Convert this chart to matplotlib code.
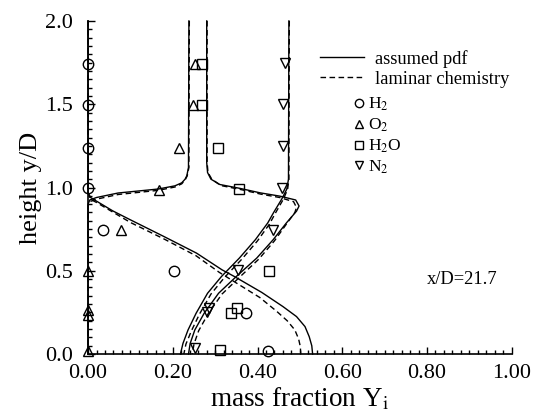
import matplotlib
matplotlib.use("Agg")
import matplotlib.pyplot as plt
from matplotlib.lines import Line2D
from matplotlib.ticker import MultipleLocator, FormatStrFormatter

plt.rcParams["font.family"] = ["Liberation Serif", "DejaVu Serif"]
plt.rcParams["mathtext.fontset"] = "stix"

# ---- model profiles: mass fraction (x) vs height y/D ----
# assumed pdf (solid)
h2_pdf_y = [2.0, 0.97, 0.94, 0.918, 0.86, 0.807, 0.707, 0.606, 0.506, 0.466, 0.37, 0.285, 0.225, 0.165, 0.104, 0.05, 0.0]
h2_pdf_x = [0.0, 0.0, 0.006, 0.02, 0.058, 0.099, 0.178, 0.256, 0.316, 0.345, 0.41, 0.46, 0.492, 0.512, 0.522, 0.528, 0.53]
o2_pdf_y = [0.0, 0.90, 0.925, 0.94, 0.967, 0.991, 1.01, 1.028, 1.05, 1.07, 1.12, 2.0]
o2_pdf_x = [0.0, 0.0, 0.004, 0.02, 0.071, 0.166, 0.205, 0.221, 0.229, 0.233, 0.237, 0.238]
h2o_pdf_y = [2.0, 1.15, 1.09, 1.05, 1.018, 0.995, 0.968, 0.948, 0.925, 0.889, 0.858, 0.787, 0.687, 0.576, 0.466, 0.365, 0.245, 0.145, 0.064, 0.0]
h2o_pdf_x = [0.280, 0.280, 0.282, 0.29, 0.311, 0.358, 0.406, 0.453, 0.49, 0.498, 0.492, 0.468, 0.437, 0.398, 0.350, 0.308, 0.274, 0.252, 0.241, 0.237]
n2_pdf_y = [2.0, 1.05, 0.99, 0.93, 0.85, 0.787, 0.687, 0.576, 0.466, 0.365, 0.245, 0.145, 0.064, 0.0]
n2_pdf_x = [0.474, 0.473, 0.469, 0.457, 0.438, 0.424, 0.395, 0.357, 0.315, 0.282, 0.255, 0.236, 0.224, 0.218]

# laminar chemistry (dashed)
h2_lam_y = [2.0, 0.97, 0.93, 0.91, 0.85, 0.79, 0.69, 0.59, 0.49, 0.425, 0.34, 0.257, 0.2, 0.145, 0.09, 0.044, 0.0]
h2_lam_x = [0.0, 0.0, 0.005, 0.02, 0.06, 0.10, 0.18, 0.255, 0.31, 0.351, 0.405, 0.445, 0.47, 0.488, 0.497, 0.501, 0.502]
o2_lam_y = [0.0, 0.89, 0.915, 0.93, 0.958, 0.983, 1.003, 1.022, 1.045, 1.07, 1.12, 2.0]
o2_lam_x = [0.0, 0.0, 0.004, 0.02, 0.071, 0.166, 0.205, 0.221, 0.229, 0.234, 0.238, 0.239]
h2o_lam_y = [2.0, 1.15, 1.09, 1.05, 1.012, 0.988, 0.96, 0.94, 0.915, 0.88, 0.85, 0.78, 0.68, 0.57, 0.46, 0.36, 0.24, 0.14, 0.06, 0.0]
h2o_lam_x = [0.281, 0.281, 0.283, 0.292, 0.313, 0.36, 0.408, 0.452, 0.485, 0.492, 0.488, 0.468, 0.44, 0.403, 0.357, 0.316, 0.283, 0.261, 0.25, 0.246]
n2_lam_y = [2.0, 1.05, 0.99, 0.93, 0.85, 0.78, 0.68, 0.57, 0.46, 0.36, 0.24, 0.14, 0.06, 0.0]
n2_lam_x = [0.475, 0.474, 0.471, 0.461, 0.443, 0.428, 0.400, 0.363, 0.322, 0.29, 0.263, 0.244, 0.231, 0.226]

# ---- measurements ----
h2_y = [1.74, 1.494, 1.239, 0.998, 0.747, 0.496, 0.245, 0.02]
h2_x = [0.0, 0.0, 0.0, 0.0, 0.035, 0.203, 0.373, 0.425]
o2_y = [1.74, 1.494, 1.235, 0.988, 0.747, 0.496, 0.265, 0.235, 0.02]
o2_x = [0.252, 0.247, 0.215, 0.168, 0.077, 0.0, 0.0, 0.0, 0.0]
h2o_y = [1.74, 1.494, 1.235, 0.994, 0.50, 0.275, 0.245, 0.024]
h2o_x = [0.268, 0.268, 0.307, 0.357, 0.428, 0.351, 0.337, 0.311]
n2_y = [1.75, 1.50, 1.249, 0.998, 0.747, 0.506, 0.275, 0.255, 0.034]
n2_x = [0.465, 0.461, 0.461, 0.457, 0.437, 0.355, 0.286, 0.280, 0.252]

fig = plt.figure(figsize=(5.37, 4.19), dpi=100)
ax = fig.add_axes([0.164, 0.155, 0.789, 0.795])

pdf_curves = [(h2_pdf_x, h2_pdf_y), (o2_pdf_x, o2_pdf_y), (h2o_pdf_x, h2o_pdf_y), (n2_pdf_x, n2_pdf_y)]
lam_curves = [(h2_lam_x, h2_lam_y), (o2_lam_x, o2_lam_y), (h2o_lam_x, h2o_lam_y), (n2_lam_x, n2_lam_y)]
for xs, ys in pdf_curves:
    ax.plot(xs, ys, color="black", lw=1.0, clip_on=False)
for xs, ys in lam_curves:
    ax.plot(xs, ys, color="black", lw=1.0, ls=(0, (4, 2.5)), clip_on=False)

mk = dict(ls="none", color="black", mfc="none", mew=1.0, clip_on=False)
ax.plot(h2_x, h2_y, marker="o", ms=7.5, **mk)
ax.plot(o2_x, o2_y, marker="^", ms=7.5, **mk)
ax.plot(h2o_x, h2o_y, marker="s", ms=6.5, **mk)
ax.plot(n2_x, n2_y, marker="v", ms=7.5, **mk)

ax.set_xlim(0, 1.0)
ax.set_ylim(0, 2.0)
ax.spines["top"].set_visible(False)
ax.spines["right"].set_visible(False)
for s in ["left", "bottom"]:
    ax.spines[s].set_linewidth(1.2)
ax.xaxis.set_major_locator(MultipleLocator(0.2))
ax.xaxis.set_minor_locator(MultipleLocator(0.02))
ax.yaxis.set_major_locator(MultipleLocator(0.5))
ax.yaxis.set_minor_locator(MultipleLocator(0.05))
ax.xaxis.set_major_formatter(FormatStrFormatter("%.2f"))
ax.yaxis.set_major_formatter(FormatStrFormatter("%.1f"))
ax.tick_params(which="both", direction="in", top=False, right=False, width=1.0)
ax.tick_params(which="major", length=5, labelsize=16)
ax.tick_params(which="minor", length=3)
ax.tick_params(axis="x", which="major", pad=7)
ax.tick_params(axis="y", which="major", pad=11)

ax.set_xlabel("mass fraction Y$_\\mathrm{i}$", fontsize=19.5, labelpad=2)
ax.set_ylabel("height y/D", fontsize=19, labelpad=2)

ax.text(0.80, 0.446, "x/D=21.7", fontsize=13.3, va="center")

line_handles = [Line2D([], [], color="black", lw=1.0),
                Line2D([], [], color="black", lw=1.0, ls=(0, (4, 2.5)))]
leg1 = ax.legend(line_handles, ["assumed pdf", "laminar chemistry"], loc="upper left",
                 bbox_to_anchor=(0.547, 0.913), frameon=False, fontsize=13.3,
                 handlelength=2.4, handletextpad=0.6, borderpad=0, borderaxespad=0,
                 labelspacing=0.16)
ax.add_artist(leg1)
mark_handles = [Line2D([], [], marker=m, ms=s, ls="none", color="black", mfc="none", mew=1.0)
                for m, s in [("o", 6), ("^", 6), ("s", 5.5), ("v", 6)]]
ax.legend(mark_handles, ["H$_2$", "O$_2$", "H$_2$O", "N$_2$"], loc="upper left",
          bbox_to_anchor=(0.622, 0.775), frameon=False, fontsize=12.5,
          handlelength=0.8, handletextpad=0.15, borderpad=0, borderaxespad=0,
          labelspacing=0.2)

fig.savefig("out.png", dpi=100)
